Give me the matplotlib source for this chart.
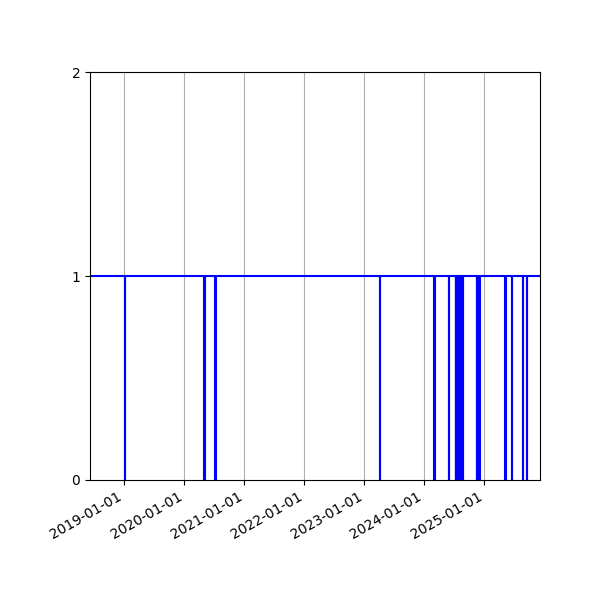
import pandas as pd
import matplotlib
matplotlib.use('Agg')
import matplotlib.pyplot as plt
import matplotlib.dates as mdates

# range of the series
start_date = '2018-06-05'
end_date = '2025-12-06'

# days where the value drops to 0 (start, end of the gap)
dip_starts = ['2019-01-05', '2020-05-01', '2020-07-08', '2023-04-07',
              '2024-03-03', '2024-05-31',
              '2024-07-10', '2024-07-13', '2024-07-16', '2024-07-19', '2024-07-22',
              '2024-07-25', '2024-07-28', '2024-07-31', '2024-08-03', '2024-08-06',
              '2024-08-09', '2024-08-12', '2024-08-15', '2024-08-18', '2024-08-21',
              '2024-11-17', '2024-11-20', '2024-11-23', '2024-11-26', '2024-11-29',
              '2024-12-02',
              '2025-05-08', '2025-06-16', '2025-08-24', '2025-09-16']
dip_ends = ['2019-01-07', '2020-05-03', '2020-07-10', '2023-04-09',
            '2024-03-05', '2024-06-02',
            '2024-07-12', '2024-07-15', '2024-07-18', '2024-07-21', '2024-07-24',
            '2024-07-27', '2024-07-30', '2024-08-02', '2024-08-05', '2024-08-08',
            '2024-08-11', '2024-08-14', '2024-08-17', '2024-08-20', '2024-08-24',
            '2024-11-19', '2024-11-22', '2024-11-25', '2024-11-28', '2024-12-01',
            '2024-12-04',
            '2025-05-10', '2025-06-18', '2025-08-26', '2025-09-18']
base_value = 1
dip_value = 0

x = [start_date]
y = [base_value]
for s, e in zip(dip_starts, dip_ends):
    x += [s, e]
    y += [dip_value, base_value]
x.append(end_date)
y.append(base_value)
df = pd.DataFrame({'time': pd.to_datetime(x), 'value': y})

fig, ax = plt.subplots(figsize=(6, 6), dpi=100)
ax.plot(df['time'], df['value'], drawstyle='steps-post', color='blue', linewidth=1.5)
ax.set_xlim(pd.Timestamp(start_date), pd.Timestamp(end_date))
ax.set_ylim(0, 2)
ax.set_yticks([0, 1, 2])
ax.xaxis.set_major_locator(mdates.YearLocator())
ax.xaxis.set_major_formatter(mdates.DateFormatter('%Y-%m-%d'))
ax.grid(axis='x')
fig.autofmt_xdate()
plt.subplots_adjust(left=0.15, right=0.9, top=0.88, bottom=0.2)
plt.savefig('out.png')
